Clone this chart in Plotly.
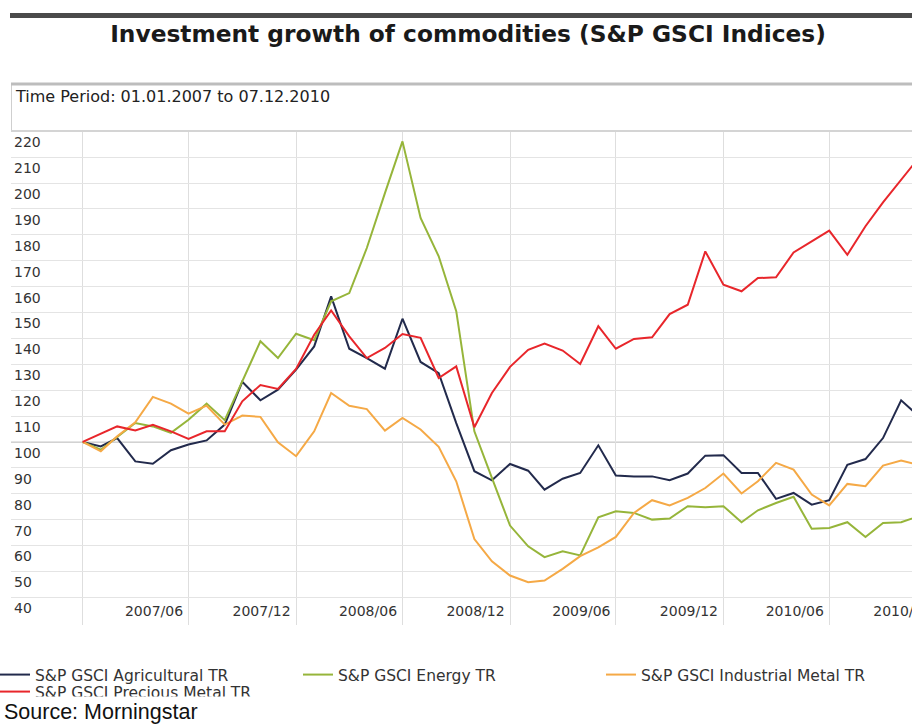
import pandas as pd
import plotly.graph_objects as go

# ---------------- data (monthly, index = 100 on 01.01.2007) ----------------
dates = pd.date_range("2007-01-01", periods=48, freq="MS")

agricultural = [100, 98.3, 101.5, 92.5, 91.6, 96.8, 99.0, 100.6, 106.7, 123.2, 116.1, 120.2,
                127.9, 136.9, 156.2, 136.0, 132.4, 128.3, 147.6, 130.9, 126.6, 107.3, 88.7, 85.2,
                91.5, 88.9, 81.6, 85.8, 88.0, 98.7, 87.0, 86.7, 86.7, 85.2, 87.8, 94.7,
                94.9, 88.0, 88.0, 78.0, 80.3, 75.8, 77.5, 91.2, 93.4, 101.5, 116.1, 110.0]

energy = [100, 97.0, 101.9, 107.3, 106.0, 103.5, 108.6, 114.8, 108.4, 123.4, 138.9, 132.4,
          141.8, 139.3, 154.3, 157.5, 174.9, 196.1, 216.1, 186.5, 171.7, 150.5, 104.1, 86.1,
          67.7, 59.7, 55.5, 57.8, 56.2, 70.9, 73.2, 72.6, 70.0, 70.4, 75.2, 74.8,
          75.2, 69.0, 73.6, 76.4, 78.8, 66.5, 66.8, 69.0, 63.3, 68.7, 69.0, 71.3]

industrial_metal = [100, 96.4, 102.2, 107.6, 117.4, 114.8, 110.9, 114.0, 106.7, 110.2, 109.7, 99.9,
                    94.5, 104.1, 118.9, 114.0, 112.7, 104.4, 109.3, 104.8, 98.1, 84.8, 62.5, 53.9,
                    48.4, 45.8, 46.5, 51.0, 55.9, 59.3, 63.3, 72.6, 77.5, 75.5, 78.4, 82.2,
                    87.8, 80.1, 84.8, 91.9, 89.3, 79.7, 75.5, 83.8, 82.9, 90.9, 92.8, 91.2]

precious_metal = [100, 103.2, 106.0, 104.4, 106.6, 104.1, 101.2, 104.1, 104.1, 115.7, 122.0, 120.5,
                  128.2, 141.4, 150.8, 140.8, 132.4, 136.3, 141.7, 140.2, 124.7, 129.2, 105.7, 118.9,
                  129.0, 135.6, 138.0, 135.3, 130.1, 144.7, 136.0, 139.8, 140.4, 149.4, 153.0, 173.6,
                  160.7, 158.2, 163.3, 163.6, 173.2, 177.5, 181.6, 172.3, 183.3, 192.5, 201.3, 209.7]

series_names = ["S&P GSCI Agricultural TR", "S&P GSCI Energy TR",
                "S&P GSCI Industrial Metal TR", "S&P GSCI Precious Metal TR"]
series_values = [agricultural, energy, industrial_metal, precious_metal]
series_colors = ["#222a4c", "#96b53a", "#f5a946", "#e8262b"]

grid_dates = ["2007-01-01", "2007-07-01", "2008-01-01", "2008-07-01", "2009-01-01",
              "2009-07-01", "2010-01-01", "2010-07-01", "2011-01-01"]
tick_labels = ["2007/06", "2007/12", "2008/06", "2008/12", "2009/06",
               "2009/12", "2010/06", "2010/12"]
y_ticks = list(range(40, 230, 10))

title_text = "Investment growth of commodities (S&P GSCI Indices)"
period_text = "Time Period: 01.01.2007 to 07.12.2010"
source_text = "Source: Morningstar"

# ---------------- layout helpers ----------------
W, H = 912, 724
L, R, T, B = 11, 0, 131, 99
PW, PH = W - L - R, H - T - B
X_RANGE = ["2006-08-31 09:00", "2010-11-19 14:00"]
Y_RANGE = [29.3, 220.1]


def px(xp):
    return (xp - L) / PW


def py(yp):
    return (H - B - yp) / PH


fig = go.Figure()
legend_ids = ["legend", "legend2", "legend3", "legend4"]
for name, vals, col, lg in zip(series_names, series_values, series_colors, legend_ids):
    fig.add_trace(go.Scatter(x=dates, y=vals, mode="lines", name=name, legend=lg,
                             line=dict(color=col, width=2), hoverinfo="x+y+name"))

# x labels sit just left of each half-year gridline; y labels just below each gridline
label_pos = [pd.Timestamp(d) - pd.Timedelta(days=59) for d in grid_dates[1:]]
y_label_pos = [v - 4.25 for v in y_ticks]
y_label_text = [str(v) for v in y_ticks]

legend_font = dict(family="DejaVu Sans", size=15.5, color="#333333")


def legend_at(xp, yp):
    return dict(orientation="h", x=px(xp), xanchor="left", y=py(yp), yanchor="top",
                itemwidth=30, font=legend_font, bgcolor="rgba(0,0,0,0)")


fig.update_layout(
    width=W, height=H,
    margin=dict(l=L, r=R, t=T, b=B, pad=0, autoexpand=False),
    paper_bgcolor="white", plot_bgcolor="white",
    font=dict(family="DejaVu Sans", size=14, color="#333333"),
    title=dict(text=title_text, x=468 / W, xanchor="center", y=1 - 34 / H, yanchor="middle",
               font=dict(family="DejaVu Sans", size=23.3, color="#1a1a1a", weight="bold")),
    showlegend=True,
    legend=legend_at(-5, 658),
    legend2=legend_at(298, 658),
    legend3=legend_at(601, 658),
    legend4=legend_at(-5, 675),
    xaxis=dict(type="date", range=X_RANGE, anchor="free", position=py(601),
               tickmode="array", tickvals=label_pos, ticktext=tick_labels,
               ticks="", showgrid=False, zeroline=False, showline=False,
               ticklabeloverflow="allow",
               tickfont=dict(family="DejaVu Sans", size=14, color="#333333"),
               minor=dict(tickmode="array", tickvals=grid_dates, showgrid=True,
                          gridcolor="#dedede", gridwidth=1, ticks="")),
    yaxis=dict(range=Y_RANGE, tickmode="array", tickvals=y_label_pos, ticktext=y_label_text,
               ticks="", showgrid=False, zeroline=False, showline=False,
               ticklabelposition="inside",
               tickfont=dict(family="DejaVu Sans", size=14, color="#333333"),
               minor=dict(tickmode="array", tickvals=y_ticks, showgrid=True,
                          gridcolor="#e4e4e4", gridwidth=1, ticks="")),
)

shapes = [
    # dark bar above title
    dict(type="rect", xref="paper", yref="paper", x0=px(10), x1=px(912), y0=py(13), y1=py(18),
         fillcolor="#4a4a4a", line=dict(width=0), layer="above"),
    # time period box
    dict(type="rect", xref="paper", yref="paper", x0=px(11.5), x1=px(913), y0=py(84), y1=py(131),
         fillcolor="rgba(0,0,0,0)", line=dict(color="#cfcfcf", width=1), layer="above"),
    dict(type="line", xref="paper", yref="paper", x0=px(11), x1=px(912), y0=py(84), y1=py(84),
         line=dict(color="#bdbdbd", width=3), layer="above"),
    dict(type="line", xref="paper", yref="paper", x0=px(11), x1=px(912), y0=py(131), y1=py(131),
         line=dict(color="#d4d4d4", width=2), layer="above"),
    # base line at 100
    dict(type="line", xref="paper", yref="y", x0=0, x1=1, y0=100, y1=100,
         line=dict(color="#9a9a9a", width=1), layer="below"),
]
fig.update_layout(shapes=shapes)

fig.add_annotation(text=period_text, xref="paper", yref="paper", x=px(13), y=py(97),
                   xanchor="left", yanchor="middle", showarrow=False,
                   font=dict(family="DejaVu Sans", size=16, color="#222222"))
fig.add_annotation(text=source_text, xref="paper", yref="paper", x=px(3), y=py(712),
                   xanchor="left", yanchor="middle", showarrow=False, bgcolor="white",
                   width=340, height=30, align="left", borderpad=0,
                   font=dict(family="Liberation Sans", size=21.5, color="#111111"))

fig.write_html("out.html", config={"displayModeBar": False},
               post_script="document.body.style.margin='0';")
